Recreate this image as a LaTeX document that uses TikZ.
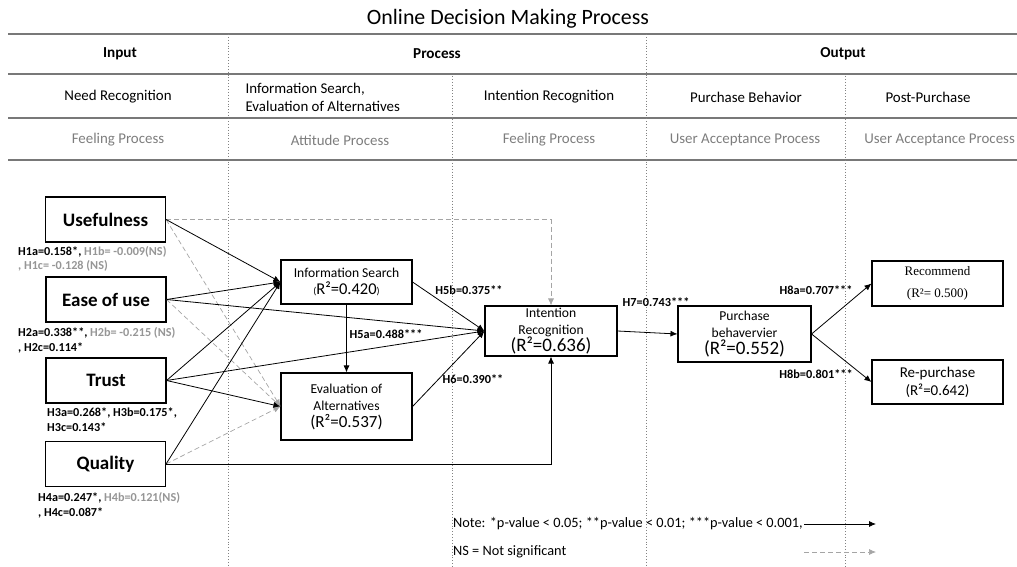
\documentclass[tikz,border=0pt]{standalone}
\usepackage{fontspec}
\setmainfont{Carlito}
\newfontfamily\serifnr{Liberation Serif}
\usetikzlibrary{arrows.meta,calc}
\definecolor{rulegray}{RGB}{120,120,120}
\definecolor{subgray}{RGB}{125,125,125}
\definecolor{nsgray}{RGB}{150,150,150}
\definecolor{dashgray}{RGB}{165,165,165}
\definecolor{dotgray}{RGB}{130,130,130}
\newcommand{\fsz}[2]{\fontsize{#1}{#2}\selectfont}
\tikzset{
  box/.style={draw, line width=1.1pt, align=center, inner sep=0pt},
  bigbox/.style={box, minimum width=120pt, minimum height=45pt, font=\bfseries\fsz{19}{21}},
  midbox/.style={box, font=\fsz{13.6}{17}},
  solidarrow/.style={-{Latex[length=7pt,width=6pt]}, line width=0.8pt},
  nsarrow/.style={-{Latex[length=7pt,width=6pt]}, dash pattern=on 5pt off 3pt, draw=dashgray, line width=0.7pt},
  lbl/.style={font=\bfseries\fsz{12.3}{14}, inner sep=0pt},
  hlbl/.style={font=\bfseries\fsz{12.2}{14}, inner sep=0pt, anchor=west},
  hrule/.style={draw=rulegray, line width=1.5pt},
  vdot/.style={draw=dotgray, dotted, line width=0.9pt},
  headA/.style={font=\bfseries\fsz{15.2}{17}},
  headB/.style={font=\fsz{14.9}{18}},
  headC/.style={font=\fsz{14.9}{18}, text=subgray},
}
\begin{document}
\begin{tikzpicture}[x=1pt,y=-1pt]
\useasboundingbox (0,0) rectangle (1017,567);
% title and table rules
\node[font=\fsz{21.9}{24}] (title) at (508,19) {Online Decision Making Process};
\foreach \yy in {34,74,118,160} \draw[hrule] (8,\yy) -- (1017,\yy);
\draw[vdot] (228,34) -- (228,567);
\draw[vdot] (452,76) -- (452,567);
\draw[vdot] (646,34) -- (646,567);
\draw[vdot] (845,76) -- (845,567);
% header row 1
\node[headA] (hin) at (120,54) {Input};
\node[headA] (hpr) at (437,54) {Process};
\node[headA] (hout) at (843,54) {Output};
% header row 2
\node[headB] (r2a) at (118,97) {Need Recognition};
\node[headB, anchor=west, align=left, font=\fsz{14.9}{18}] (r2b) at (242,97) {Information Search,\\Evaluation of Alternatives};
\node[headB] (r2c) at (549,97) {Intention Recognition};
\node[headB] (r2d) at (746,97) {Purchase Behavior};
\node[headB] (r2e) at (928,97) {Post-Purchase};
% header row 3
\node[headC] (r3a) at (118,140) {Feeling Process};
\node[headC] (r3b) at (340,140) {Attitude Process};
\node[headC] (r3c) at (549,140) {Feeling Process};
\node[headC] (r3d) at (745,140) {User Acceptance Process};
\node[headC, anchor=east, inner sep=0pt] (r3e) at (1015,140) {User Acceptance Process};
% input boxes
\node[bigbox] (use) at (105.5,219.5) {Usefulness};
\node[bigbox] (ease) at (106,299.5) {Ease of use};
\node[bigbox] (trust) at (106,380.5) {Trust};
\node[bigbox] (qual) at (105.5,464) {Quality};
% process boxes
\node[midbox, minimum width=131pt, minimum height=44pt] (info) at (346.5,282)
  {Information Search\\{\fsz{10}{12}(}{\fsz{16.5}{18}R²=0.420}{\fsz{10}{12})}};
\node[midbox, minimum width=131pt, minimum height=67pt] (eval) at (346.5,406.5)
  {Evaluation of\\Alternatives\\{\fsz{17}{18}(R²=0.537)}};
\node[midbox, minimum width=132pt, minimum height=50pt] (intent) at (551,331)
  {Intention\\Recognition\\{\fsz{19}{19}(R²=0.636)}};
\node[midbox, minimum width=133pt, minimum height=56pt] (purch) at (744.5,334)
  {Purchase\\behavervier\\{\fsz{19}{19}(R²=0.552)}};
\node[box, minimum width=131pt, minimum height=45pt, font=\serifnr\fsz{13}{22}] (recom) at (937.5,283.5)
  {Recommend\\(R²= 0.500)};
\node[box, minimum width=131pt, minimum height=44pt, font=\fsz{15}{18}] (repur) at (937.5,382)
  {Re-purchase\\(R²=0.642)};
% non-significant paths
\draw[nsarrow] (use.east) -- (use.east -| intent.north) -- (intent.north);
\draw[nsarrow] (use.east) -- (eval.west);
\draw[nsarrow] (ease.east) -- (eval.west);
\draw[nsarrow] (qual.east) -- (eval.west);
% significant paths
\draw[solidarrow] (use.east) -- (info.west);
\draw[solidarrow] (ease.east) -- (info.west);
\draw[solidarrow] (trust.east) -- (info.west);
\draw[solidarrow] (qual.east) -- (info.west);
\draw[solidarrow] (ease.east) -- (intent.west);
\draw[solidarrow] (trust.east) -- (intent.west);
\draw[solidarrow] (trust.east) -- (eval.west);
\draw[solidarrow] (qual.east) -| (intent.south);
\draw[solidarrow] (info.south) -- (eval.north);
\draw[solidarrow] (info.east) -- (intent.west);
\draw[solidarrow] (eval.east) -- (intent.west);
\draw[solidarrow] (intent.east) -- (purch.west);
\draw[solidarrow] (purch.east) -- (recom.west);
\draw[solidarrow] (purch.east) -- (repur.west);
% path labels
\node[lbl] (l5b) at (469,290) {H5b=0.375**};
\node[lbl] (l5a) at (386,334) {H5a=0.488***};
\node[lbl] (l6) at (473,379) {H6=0.390**};
\node[lbl] (l7) at (656,302) {H7=0.743***};
\node[lbl] (l8a) at (816,290) {H8a=0.707***};
\node[lbl] (l8b) at (816,374) {H8b=0.801***};
% input labels
\node[hlbl] (h1a) at (18,252) {H1a=0.158*, \textcolor{nsgray}{H1b= -0.009(NS)}};
\node[hlbl, text=nsgray] (h1b) at (18,266) {, H1c= -0.128 (NS)};
\node[hlbl] (h2a) at (18,333) {H2a=0.338**, \textcolor{nsgray}{H2b= -0.215 (NS)}};
\node[hlbl] (h2b) at (18,348) {, H2c=0.114*};
\node[hlbl] (h3a) at (47,413) {H3a=0.268*, H3b=0.175*,};
\node[hlbl] (h3b) at (47,427) {H3c=0.143*};
\node[hlbl] (h4a) at (38,498) {H4a=0.247*, \textcolor{nsgray}{H4b=0.121(NS)}};
\node[hlbl] (h4b) at (38,513) {, H4c=0.087*};
% legend
\node[font=\fsz{14.3}{16}, anchor=west, inner sep=0pt] (note1) at (453,524) {Note: *p-value < 0.05; **p-value < 0.01; ***p-value < 0.001,};
\node[font=\fsz{14.3}{16}, anchor=west, inner sep=0pt] (note2) at (453,552) {NS = Not significant};
\coordinate (lg1a) at (804,524);
\coordinate (lg1b) at (876,524);
\coordinate (lg2a) at (804,552);
\coordinate (lg2b) at (876,552);
\draw[solidarrow] (lg1a) -- (lg1b);
\draw[nsarrow] (lg2a) -- (lg2b);
\end{tikzpicture}
\end{document}
